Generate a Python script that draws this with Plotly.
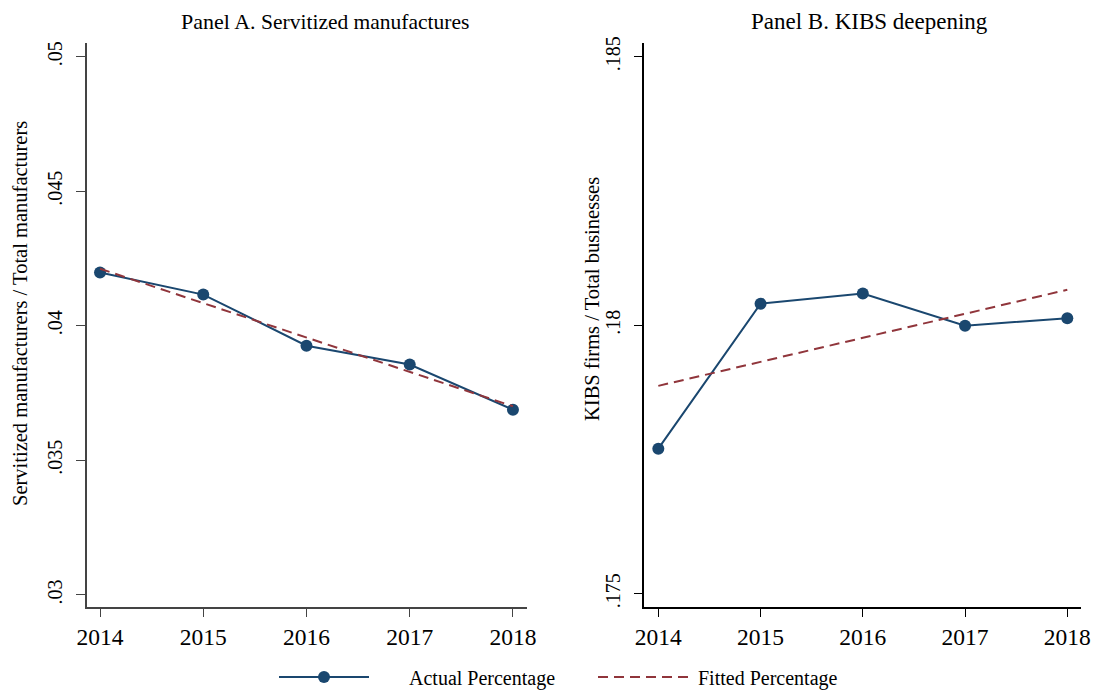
import plotly.graph_objects as go

# Survey years
years = [2014, 2015, 2016, 2017, 2018]

# Panel A: servitized manufacturers as a share of all manufacturers
servitized_actual = [0.04198, 0.04116, 0.03926, 0.03856, 0.03688]
servitized_fitted = [0.04212, 0.04084, 0.03956, 0.03829, 0.03701]

# Panel B: KIBS firms as a share of all businesses
kibs_actual = [0.17770, 0.18040, 0.18059, 0.17999, 0.18013]
kibs_fitted = [0.17887, 0.17932, 0.17976, 0.18021, 0.18066]

# Axis tick labels
year_labels = ["2014", "2015", "2016", "2017", "2018"]
a_ticks = [0.03, 0.035, 0.04, 0.045, 0.05]
a_tick_labels = [".03", ".035", ".04", ".045", ".05"]
b_ticks = [0.175, 0.18, 0.185]
b_tick_labels = [".175", ".18", ".185"]

NAVY = "#1a476f"
MAROON = "#90353b"
FONT = "Liberation Serif"
W, H = 1100, 690
NB = "\u00a0"  # non-breaking space used to pad legend labels

fig = go.Figure()

for axis_x, axis_y, actual, fitted, show in [
    ("x", "y", servitized_actual, servitized_fitted, True),
    ("x2", "y2", kibs_actual, kibs_fitted, False),
]:
    fig.add_trace(go.Scatter(
        x=years, y=actual, xaxis=axis_x, yaxis=axis_y,
        mode="lines+markers", name=NB * 7 + "Actual Percentage",
        line=dict(color=NAVY, width=2),
        marker=dict(color=NAVY, size=12),
        showlegend=show, legendgroup="actual",
    ))
    fig.add_trace(go.Scatter(
        x=years, y=fitted, xaxis=axis_x, yaxis=axis_y,
        mode="lines", name=NB + "Fitted Percentage",
        line=dict(color=MAROON, width=2, dash="10px,6px"),
        showlegend=show, legendgroup="fitted",
    ))


def px_x(p):
    return p / W


def px_y(p):
    return 1 - p / H


common_x = dict(
    tickvals=years, ticktext=year_labels, showline=True, linewidth=1.5,
    ticks="outside", ticklen=8, tickwidth=1.2, showgrid=False, zeroline=False,
    tickfont=dict(family=FONT, size=23.5, color="black"), fixedrange=True,
    automargin=False,
)
common_y = dict(
    showline=True, linewidth=1.5, ticks="outside", ticklen=9, tickwidth=1.2,
    showgrid=False, zeroline=False, tickangle=-90,
    tickfont=dict(family=FONT, size=20, color="black"),
    ticklabelstandoff=6, fixedrange=True, automargin=False,
)

fig.update_layout(
    template="none",
    width=W, height=H,
    margin=dict(l=0, r=0, t=0, b=0, autoexpand=False),
    paper_bgcolor="white", plot_bgcolor="white",
    font=dict(family=FONT, color="black"),
    xaxis=dict(domain=[px_x(86.7), px_x(527)], range=[2013.871, 2018.136],
               anchor="y", linecolor="#444444", tickcolor="#444444", **common_x),
    yaxis=dict(domain=[px_y(607), px_y(43)], range=[0.02955, 0.05051],
               anchor="x", tickvals=a_ticks, ticktext=a_tick_labels,
               linecolor="#444444", tickcolor="#444444", **common_y),
    xaxis2=dict(domain=[px_x(644.3), px_x(1081)], range=[2013.863, 2018.134],
                anchor="y2", linecolor="black", tickcolor="black", **common_x),
    yaxis2=dict(domain=[px_y(607), px_y(43)], range=[0.174752, 0.185255],
                anchor="x2", tickvals=b_ticks, ticktext=b_tick_labels,
                linecolor="black", tickcolor="black", **common_y),
    legend=dict(
        orientation="h", x=px_x(274), xanchor="left", y=px_y(677), yanchor="middle",
        font=dict(family=FONT, size=20, color="black"),
        itemwidth=90, entrywidth=214, tracegroupgap=0, bgcolor="rgba(0,0,0,0)",
    ),
    showlegend=True,
)

annotations = [
    dict(text="Panel A. <span style='font-size:21.5px'>Servitized manufactures</span>",
         x=px_x(325), y=px_y(21), font=dict(size=22)),
    dict(text="Panel B. KIBS deepening", x=px_x(869), y=px_y(21), font=dict(size=23)),
    dict(text="Servitized manufacturers / Total manufacturers", x=px_x(20), y=px_y(314),
         textangle=-90, font=dict(size=20.5)),
    dict(text="KIBS firms / Total businesses", x=px_x(592), y=px_y(299),
         textangle=-90, font=dict(size=20.5)),
]
for a in annotations:
    a.update(xref="paper", yref="paper", showarrow=False,
             xanchor="center", yanchor="middle")
    a["font"].update(family=FONT, color="black")
fig.update_layout(annotations=annotations)

fig.write_html("out.html")
